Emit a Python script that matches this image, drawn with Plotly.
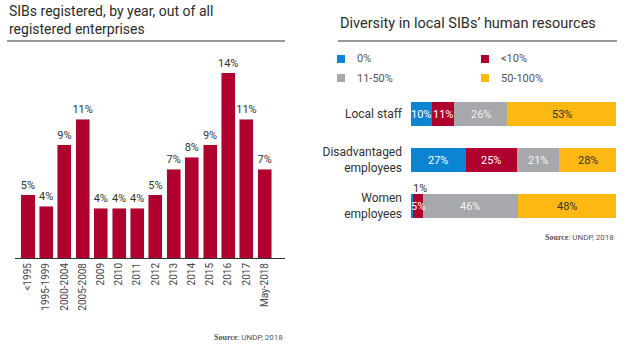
import plotly.graph_objects as go

W, H = 640, 353

# ---------------- data ----------------
years = ["<1995", "1995-1999", "2000-2004", "2005-2008", "2009", "2010", "2011",
         "2012", "2013", "2014", "2015", "2016", "2017", "May-2018"]
share = [5.0, 4.1, 9.0, 11.0, 3.95, 3.95, 3.95, 5.0, 7.05, 8.0, 9.0, 14.7, 11.0, 7.05]
share_labels = ["5%", "4%", "9%", "11%", "4%", "4%", "4%", "5%", "7%", "8%", "9%", "14%", "11%", "7%"]

groups = ["Local staff", "Disadvantaged<br>employees", "Women<br>employees"]
levels = ["0%", "<10%", "11-50%", "50-100%"]
level_values = {
    "0%": [10, 27, 1],
    "<10%": [11, 25, 5],
    "11-50%": [26, 21, 46],
    "50-100%": [53, 28, 48],
}

# ---------------- style ----------------
RED = "#B0002E"
BLUE = "#0B84D2"
GREY = "#A7A8AB"
YELLOW = "#FDB813"
colors = {"0%": BLUE, "<10%": RED, "11-50%": GREY, "50-100%": YELLOW}
text_colors = {"0%": "white", "<10%": "white", "11-50%": "#F2F2F2", "50-100%": "#333333"}
DARK = "#2B2B2B"
SANS = "Roboto, Liberation Sans, sans-serif"
NARROW = "Roboto, Liberation Sans, sans-serif"


def px(x):
    return x / W


def py(y):
    return 1 - y / H


fig = go.Figure()

# Left: vertical bars
fig.add_trace(go.Bar(
    x=years, y=share, marker_color=RED, width=0.77,
    text=share_labels, textposition="outside", cliponaxis=False,
    constraintext="none",
    textfont=dict(family=NARROW, size=11, color="#333333"),
    xaxis="x", yaxis="y", showlegend=False, hoverinfo="skip",
))

# Right: stacked horizontal bars (normalised to 100 per row)
totals = [sum(level_values[l][i] for l in levels) for i in range(len(groups))]
annotations = []
cum = [0.0] * len(groups)
for lev in levels:
    vals = level_values[lev]
    norm = [v / t * 100 for v, t in zip(vals, totals)]
    fig.add_trace(go.Bar(
        y=groups, x=norm, orientation="h", width=0.52,
        marker=dict(color=colors[lev], line=dict(width=0)),
        name=lev, xaxis="x2", yaxis="y2", showlegend=False, hoverinfo="skip",
    ))
    for i, (v, n) in enumerate(zip(vals, norm)):
        if n < 3:
            annotations.append(dict(
                x=cum[i], y=groups[i], xref="x2", yref="y2", text=f"{v}%",
                showarrow=False, xanchor="left", yshift=18,
                font=dict(family=NARROW, size=11, color="#333333")))
        else:
            annotations.append(dict(
                x=cum[i] + n / 2, y=groups[i], xref="x2", yref="y2", text=f"{v}%",
                showarrow=False, xanchor="center",
                font=dict(family=NARROW, size=11, color=text_colors[lev])))
        cum[i] += n

# Titles
annotations.append(dict(
    x=px(7), y=py(1), xref="paper", yref="paper", xanchor="left", yanchor="top",
    align="left", showarrow=False,
    text="SIBs registered, by year, out of all<br>registered enterprises",
    font=dict(family=SANS, size=14, color=DARK)))
annotations.append(dict(
    x=px(338), y=py(13), xref="paper", yref="paper", xanchor="left", yanchor="top",
    align="left", showarrow=False,
    text="Diversity in local SIBs\u2019 human resources",
    font=dict(family=SANS, size=14.5, color=DARK)))

# Sources
src = ("<span style='font-family:Liberation Serif;font-weight:bold'>Source</span>"
       ": UNDP, 2018")
annotations.append(dict(
    x=px(285), y=py(337), xref="paper", yref="paper", xanchor="right", yanchor="middle",
    showarrow=False, text=src, font=dict(family=NARROW, size=8, color="#555555")))
annotations.append(dict(
    x=px(616), y=py(237), xref="paper", yref="paper", xanchor="right", yanchor="middle",
    showarrow=False, text=src, font=dict(family=NARROW, size=8, color="#555555")))

# Legend (custom 2x2 grid)
shapes = []
leg_pos = {"0%": (337, 59), "<10%": (481, 59), "11-50%": (337, 78), "50-100%": (481, 78)}
for lev in levels:
    lx, ly = leg_pos[lev]
    shapes.append(dict(type="rect", xref="paper", yref="paper",
                       x0=px(lx), x1=px(lx + 8), y0=py(ly - 4), y1=py(ly + 4),
                       fillcolor=colors[lev], line=dict(width=0)))
    annotations.append(dict(
        x=px(lx + 18), y=py(ly), xref="paper", yref="paper", xanchor="left",
        yanchor="middle", showarrow=False, text=lev,
        font=dict(family=NARROW, size=11, color="#555555")))

# Title rules
shapes.append(dict(type="line", xref="paper", yref="paper", x0=px(7), x1=px(285),
                   y0=py(41), y1=py(41), line=dict(color="#333333", width=1)))
shapes.append(dict(type="line", xref="paper", yref="paper", x0=px(338), x1=px(617),
                   y0=py(41), y1=py(41), line=dict(color="#333333", width=1)))

fig.update_layout(
    width=W, height=H,
    margin=dict(l=0, r=0, t=0, b=0),
    paper_bgcolor="white", plot_bgcolor="white",
    barmode="stack",
    showlegend=False,
    font=dict(family=SANS, color=DARK),
    xaxis=dict(domain=[px(15), px(285)], range=[-0.714, 14.12], anchor="y",
               tickangle=-90, ticks="", showgrid=False, zeroline=False,
               showline=True, linecolor="#333333", linewidth=1,
               tickfont=dict(family=NARROW, size=10, color="#444444"),
               fixedrange=True),
    yaxis=dict(domain=[py(258), py(60)], range=[0, 15.71], visible=False,
               anchor="x", fixedrange=True),
    xaxis2=dict(domain=[px(411), px(616)], range=[0, 100], visible=False,
                anchor="y2", fixedrange=True),
    yaxis2=dict(domain=[py(229), py(91)], range=[2.5, -0.5], anchor="x2",
                ticks="", showgrid=False, zeroline=False, showline=False,
                ticklabelstandoff=8,
                tickfont=dict(family=NARROW, size=12, color="#333333"),
                fixedrange=True),
    annotations=annotations,
    shapes=shapes,
)

fig.write_html("out.html")
